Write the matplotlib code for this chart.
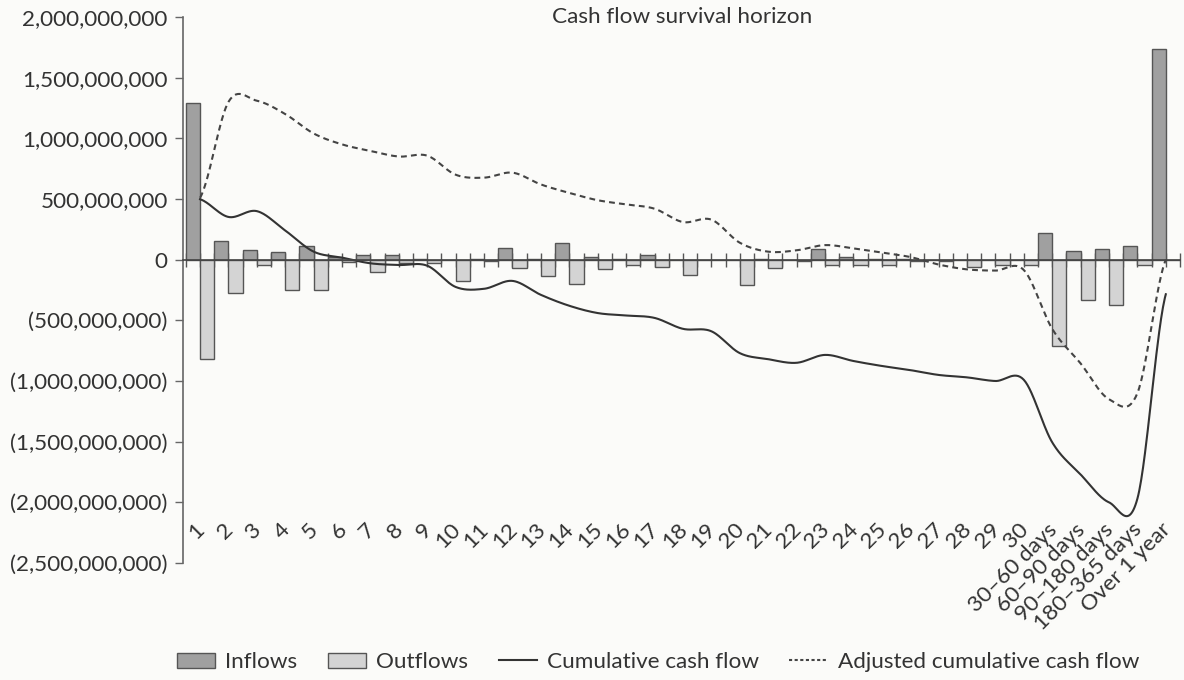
import numpy as np
import matplotlib
matplotlib.use("Agg")
import matplotlib.pyplot as plt
from matplotlib.ticker import FuncFormatter, MultipleLocator
from matplotlib.patches import Patch
from matplotlib.lines import Line2D

plt.rcParams['font.family'] = ['Lato', 'DejaVu Sans']

categories = [str(i) for i in range(1, 31)] + [
    "30\u201360 days", "60\u201390 days", "90\u2013180 days", "180\u2013365 days", "Over 1 year"]

inflows = [1.29e9, 0.154e9, 0.077e9, 0.066e9, 0.11e9, 0.02e9, 0.04e9, 0.036e9, 0.005e9, 0.0,
           0.005e9, 0.10e9, 0.005e9, 0.135e9, 0.02e9, 0.005e9, 0.035e9, 0.0, 0.0, 0.0,
           0.005e9, 0.0, 0.085e9, 0.02e9, 0.005e9, 0.005e9, 0.0, 0.0, 0.0, 0.0,
           0.22e9, 0.07e9, 0.09e9, 0.115e9, 1.74e9]

outflows = [-0.816e9, -0.277e9, -0.044e9, -0.247e9, -0.247e9, -0.02e9, -0.105e9, -0.03e9, -0.03e9, -0.176e9,
            -0.01e9, -0.07e9, -0.135e9, -0.20e9, -0.08e9, -0.04e9, -0.06e9, -0.13e9, 0.0, -0.21e9,
            -0.065e9, -0.01e9, -0.04e9, -0.047e9, -0.047e9, -0.01e9, -0.01e9, -0.06e9, -0.045e9, -0.04e9,
            -0.71e9, -0.335e9, -0.375e9, -0.04e9, 0.0]

cumulative = [0.498e9, 0.352e9, 0.40e9, 0.24e9, 0.066e9, 0.017e9, -0.03e9, -0.044e9, -0.05e9, -0.225e9,
              -0.24e9, -0.175e9, -0.29e9, -0.38e9, -0.44e9, -0.46e9, -0.48e9, -0.57e9, -0.59e9, -0.77e9,
              -0.82e9, -0.85e9, -0.785e9, -0.835e9, -0.876e9, -0.91e9, -0.95e9, -0.97e9, -1.0e9, -0.99e9,
              -1.505e9, -1.77e9, -2.0e9, -1.97e9, -0.285e9]

adjusted = [0.51e9, 1.30e9, 1.31e9, 1.2e9, 1.04e9, 0.95e9, 0.896e9, 0.85e9, 0.857e9, 0.70e9,
            0.676e9, 0.717e9, 0.62e9, 0.55e9, 0.49e9, 0.455e9, 0.42e9, 0.31e9, 0.33e9, 0.14e9,
            0.066e9, 0.077e9, 0.12e9, 0.093e9, 0.058e9, 0.022e9, -0.04e9, -0.08e9, -0.09e9, -0.085e9,
            -0.57e9, -0.855e9, -1.15e9, -1.10e9, 0.0]

yticks = [2e9, 1.5e9, 1e9, 0.5e9, 0, -0.5e9, -1e9, -1.5e9, -2e9, -2.5e9]


def smooth(xs, ys, n=30):
    xs = np.asarray(xs, float)
    ys = np.asarray(ys, float)
    px = np.concatenate([[2 * xs[0] - xs[1]], xs, [2 * xs[-1] - xs[-2]]])
    py = np.concatenate([[ys[0]], ys, [ys[-1]]])
    outx, outy = [], []
    t = np.linspace(0, 1, n, endpoint=False)
    for i in range(1, len(px) - 2):
        p0x, p1x, p2x, p3x = px[i - 1], px[i], px[i + 1], px[i + 2]
        p0y, p1y, p2y, p3y = py[i - 1], py[i], py[i + 1], py[i + 2]
        m1x, m2x = (p2x - p0x) / 2, (p3x - p1x) / 2
        m1y, m2y = (p2y - p0y) / 2, (p3y - p1y) / 2
        h00 = 2 * t**3 - 3 * t**2 + 1
        h10 = t**3 - 2 * t**2 + t
        h01 = -2 * t**3 + 3 * t**2
        h11 = t**3 - t**2
        outx.append(h00 * p1x + h10 * m1x + h01 * p2x + h11 * m2x)
        outy.append(h00 * p1y + h10 * m1y + h01 * p2y + h11 * m2y)
    outx.append([xs[-1]])
    outy.append([ys[-1]])
    return np.concatenate(outx), np.concatenate(outy)


bg = '#fbfbf9'
fs = 16.2
fig = plt.figure(figsize=(11.84, 6.8), dpi=100, facecolor=bg)
ax = fig.add_axes([183 / 1184, (680 - 563) / 680, 997 / 1184, (563 - 17) / 680])
ax.set_facecolor(bg)

n = len(categories)
centers = np.arange(n) + 0.5

ax.bar(centers - 0.25, inflows, width=0.5, color='#a0a0a0', edgecolor='#555555', linewidth=1.0, zorder=2)
ax.bar(centers + 0.25, outflows, width=0.5, color='#d4d4d4', edgecolor='#555555', linewidth=1.0, zorder=2)

sx, sy = smooth(centers, cumulative)
ax.plot(sx, sy, color='#333333', lw=1.5, zorder=3)
dx, dy = smooth(centers, adjusted)
ax.plot(dx, dy, color='#444444', lw=1.5, ls=(0, (2.8, 2.0)), zorder=3)

ax.set_xlim(-0.1, 35.0)
ax.set_ylim(-2.5e9, 2.0e9)
ax.set_yticks(yticks)


def fmt(v, pos):
    if v < 0:
        return "({:,.0f})".format(-v)
    return "{:,.0f}".format(v)


ax.yaxis.set_major_formatter(FuncFormatter(fmt))
ax.tick_params(axis='y', direction='out', length=6, width=1, color='#666666',
               labelsize=fs, labelcolor='#333333', pad=5)

for s in ['top', 'right']:
    ax.spines[s].set_visible(False)
ax.spines['left'].set_color('#666666')
ax.spines['left'].set_linewidth(1.2)
ax.spines['bottom'].set_position(('data', 0))
ax.spines['bottom'].set_color('#444444')
ax.spines['bottom'].set_linewidth(1.2)
ax.spines['bottom'].set_zorder(4)
ax.xaxis.set_major_locator(MultipleLocator(0.5))
ax.tick_params(axis='x', direction='inout', length=10, width=1, color='#555555',
               labelbottom=False)

for c, lab in zip(centers, categories):
    ax.text(c + 0.05, -2.2e9, lab, rotation=45, rotation_mode='anchor',
            ha='right', va='center', fontsize=fs, color='#333333')

fig.text(682 / 1184, 1 - 17 / 680, "Cash flow survival horizon", fontsize=fs, color='#333333',
         ha='center', va='center')

handles = [
    Patch(facecolor='#a0a0a0', edgecolor='#555555', label='Inflows'),
    Patch(facecolor='#d4d4d4', edgecolor='#555555', label='Outflows'),
    Line2D([], [], color='#333333', lw=1.5, label='Cumulative cash flow'),
    Line2D([], [], color='#444444', lw=1.5, ls=(0, (1.5, 1.2)), label='Adjusted cumulative cash flow'),
]
fig.legend(handles=handles, loc='center', bbox_to_anchor=(658 / 1184, 1 - 662 / 680), ncol=4,
           frameon=False, fontsize=fs, labelcolor='#333333', handlelength=1.7, handleheight=0.65,
           columnspacing=1.35, handletextpad=0.45)

fig.savefig('out.png', dpi=100, facecolor=bg)
